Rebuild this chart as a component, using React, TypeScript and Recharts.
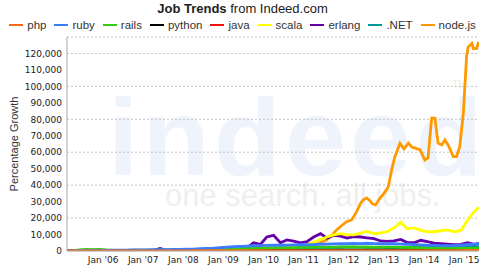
import { LineChart, Line, XAxis, YAxis, CartesianGrid } from 'recharts';

// time grid (fractional years), one sample every ~2 months
const grid = [
  2005.1, 2005.25, 2005.42, 2005.58, 2005.75, 2005.92,
  2006.08, 2006.25, 2006.42, 2006.58, 2006.75, 2006.92,
  2007.08, 2007.25, 2007.42, 2007.58, 2007.75, 2007.92,
  2008.08, 2008.25, 2008.42, 2008.58, 2008.75, 2008.92,
  2009.08, 2009.25, 2009.42, 2009.58, 2009.75, 2009.92,
  2010.08, 2010.25, 2010.42, 2010.58, 2010.75, 2010.92,
  2011.08, 2011.25, 2011.42, 2011.58, 2011.75, 2011.92,
  2012.08, 2012.25, 2012.42, 2012.58, 2012.75, 2012.92,
  2013.08, 2013.25, 2013.42, 2013.58, 2013.75, 2013.92,
  2014.08, 2014.25, 2014.42, 2014.58, 2014.75, 2014.92,
  2015.08, 2015.25, 2015.37,
];

const php = [
  0, 20, 40, 50, 60, 60,
  70, 80, 80, 90, 90, 100,
  100, 110, 110, 120, 120, 130,
  130, 140, 140, 150, 150, 150,
  150, 150, 160, 160, 170, 170,
  180, 180, 190, 190, 200, 200,
  210, 210, 220, 220, 230, 230,
  240, 240, 240, 250, 250, 250,
  250, 250, 260, 260, 260, 260,
  260, 260, 270, 270, 270, 280,
  290, 300, 300,
];

const ruby = [
  0, 100, 200, 250, 300, 350,
  400, 450, 500, 550, 600, 650,
  700, 750, 800, 850, 900, 1000,
  1100, 1200, 1400, 1600, 1800, 2100,
  2400, 2600, 2800, 3000, 3200, 3300,
  3400, 3500, 3500, 3600, 3700, 3800,
  3800, 3900, 4100, 4200, 4300, 4400,
  4500, 4600, 4500, 4700, 4500, 4400,
  4300, 4400, 4200, 4100, 3900, 3700,
  3500, 3400, 3300, 3200, 3300, 3500,
  3800, 4200, 4500,
];

const rails = [
  0, 200, 600, 1000, 800, 1000,
  600, 400, 400, 400, 450, 500,
  500, 550, 600, 650, 700, 750,
  800, 850, 900, 1000, 1100, 1200,
  1300, 1400, 1500, 1600, 1700, 1800,
  1900, 1900, 2000, 2100, 2100, 2200,
  2200, 2300, 2300, 2400, 2400, 2500,
  2500, 2500, 2400, 2500, 2400, 2400,
  2300, 2300, 2200, 2200, 2100, 2000,
  1900, 1800, 1800, 1700, 1700, 1600,
  1600, 1600, 1700,
];

const python = [
  0, 0, 0, 20, 20, 30,
  40, 50, 60, 70, 80, 90,
  100, 110, 120, 130, 140, 150,
  170, 180, 200, 210, 220, 230,
  240, 250, 260, 270, 280, 300,
  310, 320, 340, 350, 360, 380,
  400, 410, 430, 440, 460, 480,
  500, 510, 520, 530, 540, 550,
  560, 570, 580, 590, 600, 610,
  620, 630, 640, 650, 660, 680,
  720, 760, 800,
];

const java = [
  0, 0, 10, 10, 20, 20,
  30, 30, 40, 40, 50, 50,
  60, 60, 70, 70, 80, 80,
  90, 90, 100, 100, 110, 110,
  110, 120, 120, 130, 130, 140,
  140, 150, 150, 160, 160, 170,
  170, 180, 180, 190, 190, 200,
  200, 200, 210, 210, 220, 220,
  220, 230, 230, 230, 240, 240,
  240, 250, 250, 250, 260, 260,
  270, 270, 280,
];

const scala = [
  0, 0, 0, 0, 0, 0,
  0, 50, 50, 100, 100, 100,
  100, 150, 150, 200, 200, 250,
  300, 300, 400, 400, 500, 600,
  700, 800, 900, 1000, 1200, 1400,
  1600, 1800, 2000, 2300, 2600, 3000,
  3800, 5500, 7000, 8500, 9800, 10500,
  10000, 9800, 10800, 12000, 10500, 11000,
  11700, 14000, 17500, 13500, 14000, 12500,
  11700, 11700, 12300, 12800, 11700, 12500,
  18500, 24000, 26500,
];

const erlang = [
  0, 0, 0, 0, 50, 50,
  100, 100, 150, 150, 150, 200,
  200, 250, 1500, 400, 300, 300,
  350, 400, 450, 500, 600, 700,
  800, 1000, 1200, 1800, 5000, 4000,
  8500, 9500, 5000, 6700, 6000, 5000,
  5700, 8500, 10500, 7800, 9500, 9000,
  7800, 8700, 8500, 8000, 7500, 6100,
  5800, 6200, 7000, 5100, 5000, 6500,
  5700, 4800, 4500, 4200, 3800, 4000,
  5000, 4000, 4700,
];

const dotnet = [
  0, 0, 50, 50, 100, 100,
  150, 150, 200, 200, 250, 250,
  300, 300, 350, 350, 400, 450,
  500, 550, 600, 650, 700, 750,
  800, 850, 900, 1000, 1100, 1200,
  1300, 1400, 1500, 1600, 1700, 1800,
  1900, 2000, 2100, 2100, 2200, 2200,
  2300, 2300, 2300, 2200, 2200, 2200,
  2100, 2100, 2100, 2200, 2200, 2300,
  2300, 2400, 2400, 2500, 2500, 2600,
  2600, 2700, 2700,
];

// node.js has its own, finer sampling
const nodeTimes = [
  2009.92, 2010.25, 2010.5, 2010.75, 2011.0, 2011.2, 2011.4, 2011.57, 2011.7, 2011.82,
  2011.95, 2012.07, 2012.2, 2012.32, 2012.42, 2012.48, 2012.57, 2012.65, 2012.72, 2012.79,
  2012.9, 2013.0, 2013.11, 2013.19, 2013.27, 2013.4, 2013.5, 2013.61, 2013.7, 2013.77,
  2013.9, 2014.02, 2014.1, 2014.15, 2014.19, 2014.27, 2014.35, 2014.44, 2014.52, 2014.6,
  2014.73, 2014.81, 2014.89, 2014.98, 2015.06, 2015.1, 2015.19, 2015.23, 2015.31, 2015.36,
];
const nodejs = [
  0, 200, 500, 900, 1800, 3000, 5000, 6700, 9500, 12800,
  15500, 17800, 19000, 23900, 29000, 31000, 32200, 30500, 28500, 28000,
  32000, 35000, 39000, 49000, 57000, 65500, 62000, 65500, 63000, 62600,
  61400, 55300, 56500, 70000, 80700, 80700, 65500, 64400, 67500, 64400,
  57300, 57300, 63400, 83700, 118000, 124000, 126000, 123000, 123000, 127000,
];

const yTicks = [0, 10000, 20000, 30000, 40000, 50000, 60000, 70000, 80000, 90000, 100000, 110000, 120000];
const xTicks = [2006, 2007, 2008, 2009, 2010, 2011, 2012, 2013, 2014, 2015];

const toRows = (times: number[], values: number[]) => times.map((t, i) => ({ t, v: values[i] }));

// legend order
const series = [
  { name: 'php', color: '#ff6a13', rows: toRows(grid, php) },
  { name: 'ruby', color: '#3b7dff', rows: toRows(grid, ruby) },
  { name: 'rails', color: '#33cc11', rows: toRows(grid, rails) },
  { name: 'python', color: '#000000', rows: toRows(grid, python) },
  { name: 'java', color: '#ee1111', rows: toRows(grid, java) },
  { name: 'scala', color: '#ffff00', rows: toRows(grid, scala) },
  { name: 'erlang', color: '#6600aa', rows: toRows(grid, erlang) },
  { name: '.NET', color: '#009999', rows: toRows(grid, dotnet) },
  { name: 'node.js', color: '#ff9900', rows: toRows(nodeTimes, nodejs) },
];

const tickStyle = { fontSize: 9, fontFamily: 'DejaVu Sans', fill: '#222' };

export default function App() {
  return (
    <div
      style={{
        position: 'absolute',
        left: 0,
        top: 0,
        width: 485,
        height: 269,
        background: '#fff',
        fontFamily: '"Liberation Sans", Arial, sans-serif',
        overflow: 'hidden',
      }}
    >
      {/* faint watermark behind the plot */}
      <svg width={485} height={269} style={{ position: 'absolute', left: 0, top: 0 }}>
        <text x={108} y={175} fontSize={110} fontWeight="bold" fill="#eef3fc" letterSpacing={4}>
          indeed
        </text>
        <text x={452} y={88} fontSize={10} fill="#ececec">
          TM
        </text>
        <text x={165} y={206} fontSize={31} fill="#efefef">
          one search. all jobs.
        </text>
      </svg>

      <div
        style={{
          position: 'absolute',
          top: 1,
          left: 0,
          width: 485,
          textAlign: 'center',
          fontSize: 13,
          lineHeight: '15px',
          color: '#222',
        }}
      >
        <b>Job Trends</b> from Indeed.com
      </div>

      <div
        style={{
          position: 'absolute',
          top: 18,
          left: 0,
          width: 485,
          height: 14,
          display: 'flex',
          justifyContent: 'center',
          alignItems: 'center',
          fontSize: 11.5,
          color: '#333',
        }}
      >
        {series.map((s, i) => (
          <span
            key={s.name}
            style={{ display: 'flex', alignItems: 'center', marginRight: i < series.length - 1 ? 8 : 0 }}
          >
            <span style={{ width: 14, height: 2, background: s.color, marginRight: 4 }} />
            {s.name}
          </span>
        ))}
      </div>

      <div style={{ position: 'absolute', left: 0, top: 0 }}>
        <LineChart width={485} height={269} margin={{ top: 37, right: 6, bottom: 0, left: 0 }}>
          <CartesianGrid vertical={false} stroke="#c4c4c4" strokeDasharray="2 2" />
          <XAxis
            dataKey="t"
            type="number"
            domain={[2005.1, 2015.37]}
            allowDataOverflow
            ticks={xTicks}
            tickFormatter={(y: number) => `Jan '${String(y).slice(2)}`}
            height={18}
            tickSize={4}
            tickLine={false}
            axisLine={{ stroke: '#aaa' }}
            tick={tickStyle}
          />
          <XAxis
            xAxisId="top"
            orientation="top"
            dataKey="t"
            type="number"
            domain={[2005.1, 2015.37]}
            height={0}
            tick={false}
            tickLine={false}
            axisLine={{ stroke: '#c8c8c8' }}
          />
          <YAxis
            domain={[0, 130000]}
            ticks={yTicks}
            allowDataOverflow
            width={67}
            tickSize={3}
            tickMargin={2}
            tickLine={false}
            axisLine={{ stroke: '#aaa' }}
            tick={tickStyle}
            tickFormatter={(v: number) => v.toLocaleString('en-US')}
            label={{
              value: 'Percentage Growth',
              angle: -90,
              position: 'insideLeft',
              offset: 14,
              style: { textAnchor: 'middle', fontSize: 11, fill: '#333', fontFamily: '"Liberation Sans", Arial, sans-serif' },
            }}
          />
          <YAxis
            yAxisId="right"
            orientation="right"
            width={0}
            tick={false}
            tickLine={false}
            axisLine={{ stroke: '#c8c8c8' }}
          />
          {[...series].reverse().map((s) => (
            <Line
              key={s.name}
              data={s.rows}
              dataKey="v"
              name={s.name}
              type="linear"
              stroke={s.color}
              strokeWidth={2.8}
              dot={false}
              isAnimationActive={false}
            />
          ))}
        </LineChart>
      </div>
    </div>
  );
}
